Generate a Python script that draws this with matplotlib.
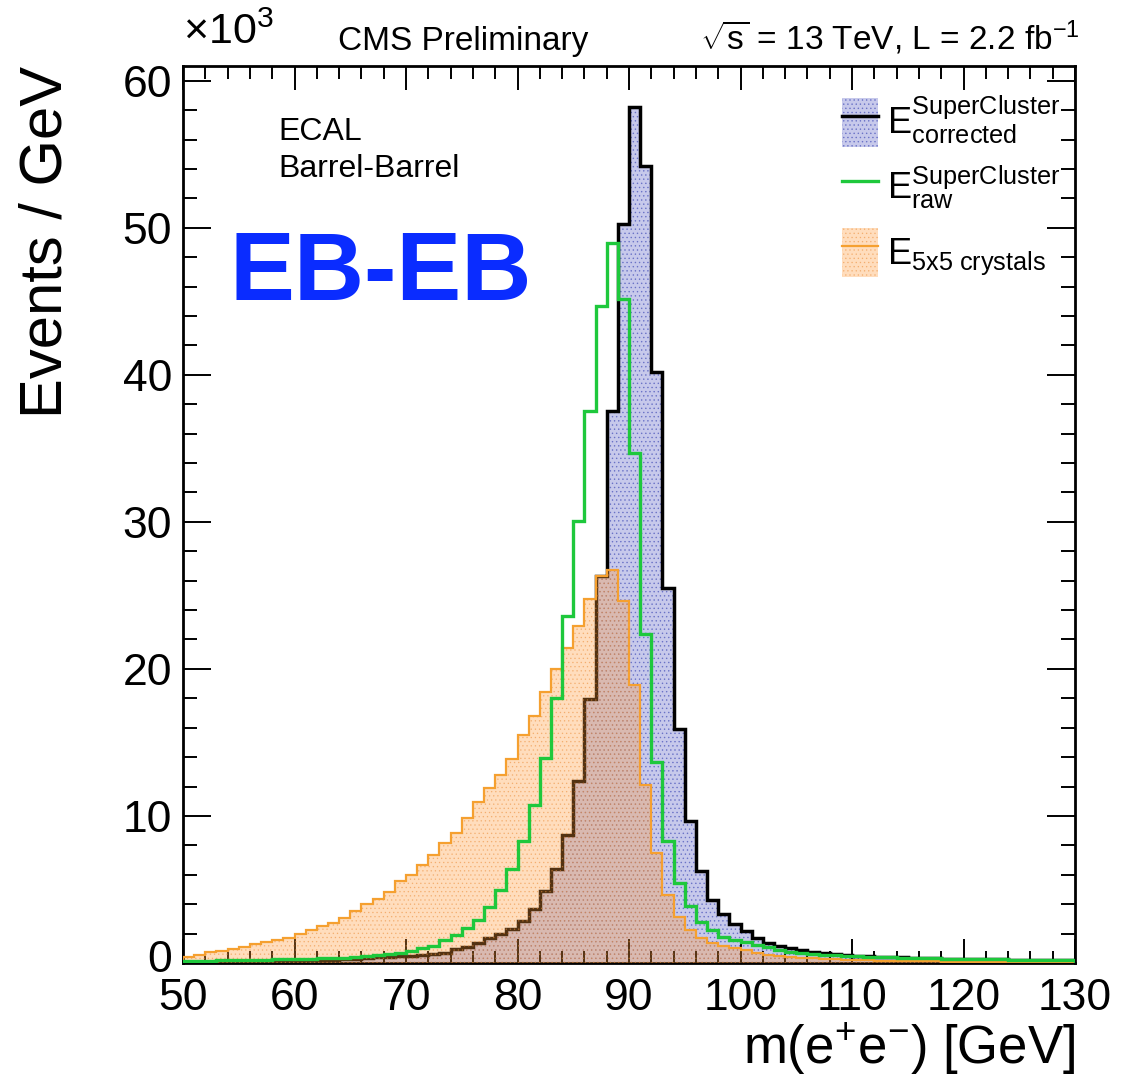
import numpy as np
import matplotlib
matplotlib.use('Agg')
import matplotlib.pyplot as plt
import matplotlib.transforms as mtransforms
from matplotlib.patches import Patch
from matplotlib.lines import Line2D
from matplotlib.ticker import MultipleLocator

plt.rcParams['font.family'] = ['Liberation Sans', 'DejaVu Sans']
plt.rcParams['mathtext.fontset'] = 'custom'
plt.rcParams['mathtext.rm'] = 'Liberation Sans'
plt.rcParams['mathtext.it'] = 'Liberation Sans:italic'
plt.rcParams['mathtext.bf'] = 'Liberation Sans:bold'
plt.rcParams['hatch.linewidth'] = 0.5

# bin edges, 1 GeV bins from 50 to 130
edges = np.arange(50, 131)

# events per GeV, in units of 10^3
corrected = [0.08, 0.08, 0.09, 0.10, 0.10, 0.11, 0.12, 0.13, 0.14, 0.15,
             0.17, 0.19, 0.21, 0.23, 0.26, 0.29, 0.33, 0.38, 0.43, 0.47,
             0.50, 0.54, 0.59, 0.70, 0.93, 1.11, 1.38, 1.68, 1.95, 2.30,
             2.88, 3.70, 4.93, 6.38, 8.72, 12.35, 17.92, 26.3, 37.56, 50.27,
             58.2, 54.2, 40.17, 25.52, 15.92, 9.67, 6.29, 4.29, 3.32, 2.68,
             2.15, 1.68, 1.34, 1.16, 1.00, 0.89, 0.77, 0.68, 0.61, 0.54,
             0.50, 0.46, 0.43, 0.40, 0.38, 0.35, 0.33, 0.31, 0.30, 0.28,
             0.27, 0.26, 0.25, 0.24, 0.23, 0.22, 0.21, 0.20, 0.20, 0.19]

raw = [0.15, 0.16, 0.17, 0.18, 0.19, 0.20, 0.21, 0.22, 0.24, 0.25,
       0.27, 0.29, 0.31, 0.34, 0.37, 0.41, 0.46, 0.54, 0.61, 0.70,
       0.84, 1.00, 1.16, 1.57, 1.91, 2.36, 2.93, 3.79, 4.95, 6.40,
       8.32, 10.76, 13.96, 18.03, 23.6, 30.06, 37.56, 44.71, 48.96, 45.16,
       34.67, 22.39, 13.65, 8.33, 5.43, 3.88, 2.82, 2.25, 1.79, 1.55,
       1.42, 1.23, 1.07, 0.89, 0.77, 0.68, 0.62, 0.57, 0.53, 0.50,
       0.47, 0.44, 0.41, 0.39, 0.37, 0.35, 0.33, 0.31, 0.29, 0.28,
       0.27, 0.26, 0.25, 0.24, 0.23, 0.22, 0.21, 0.20, 0.19, 0.19]

crystals = [0.43, 0.56, 0.72, 0.79, 0.93, 1.09, 1.26, 1.45, 1.57, 1.71,
            1.98, 2.25, 2.52, 2.75, 3.06, 3.56, 4.02, 4.38, 4.81, 5.59,
            5.99, 6.68, 7.36, 8.13, 8.83, 9.85, 10.92, 11.9, 12.8, 13.85,
            15.5, 16.82, 18.4, 20.0, 21.43, 22.9, 24.72, 26.3, 26.7, 24.6,
            18.88, 12.08, 7.47, 4.63, 3.16, 2.25, 1.73, 1.38, 1.16, 1.00,
            0.89, 0.66, 0.54, 0.48, 0.39, 0.35, 0.31, 0.28, 0.25, 0.22,
            0.20, 0.18, 0.17, 0.15, 0.14, 0.13, 0.12, 0.11, 0.10, 0.10,
            0.09, 0.08, 0.08, 0.07, 0.07, 0.06, 0.06, 0.06, 0.05, 0.05]

blue_fill = (0.78, 0.79, 0.92, 1.0)
blue_hatch = (0.42, 0.45, 0.78, 1.0)
orange_fill = (1.0, 0.60, 0.22, 0.33)
orange_hatch = (0.92, 0.55, 0.22, 0.45)
green = '#1ec83c'
orange = '#f5a030'

fig = plt.figure(figsize=(11.21, 10.83), dpi=100)
ax = fig.add_axes([183/1121, 120/1083, 892/1121, 897/1083])

ax.stairs(corrected, edges, fill=True, facecolor=blue_fill, edgecolor=blue_hatch,
          hatch='....', linewidth=0, zorder=1)
ax.stairs(corrected, edges, color='black', linewidth=2.5, zorder=2)
ax.stairs(crystals, edges, fill=True, facecolor=orange_fill, edgecolor=orange_hatch,
          hatch='....', linewidth=0, zorder=3)
ax.stairs(crystals, edges, color=orange, linewidth=1.6, zorder=4)
ax.stairs(raw, edges, color=green, linewidth=2.4, zorder=5)

ax.set_xlim(50, 130)
ax.set_ylim(0, 61.0)
ax.set_xticks(range(50, 131, 10))
ax.set_yticks(range(0, 61, 10))
ax.xaxis.set_minor_locator(MultipleLocator(2))
ax.yaxis.set_minor_locator(MultipleLocator(2))
ax.tick_params(which='both', direction='in', top=True, right=True, width=1.4,
               labelsize=32)
ax.tick_params(axis='x', which='major', length=17, pad=11)
ax.tick_params(axis='x', which='minor', length=9)
ax.tick_params(axis='y', which='major', length=20, pad=8)
ax.tick_params(axis='y', which='minor', length=10)
for s in ax.spines.values():
    s.set_linewidth(2)

# lift the "0" a little so it does not sit on the "50"
zero = ax.get_yticklabels()[0]
zero.set_transform(zero.get_transform() +
                   mtransforms.ScaledTranslation(0, 5/72, fig.dpi_scale_trans))

ax.set_xlabel(r'm(e$^{+}$e$^{-}$) [GeV]', fontsize=38, loc='right', labelpad=1)
ax.set_ylabel('Events / GeV', fontsize=43, loc='top', labelpad=35)

fig.text(183/1121, 1-44/1083, r'$\times\mathregular{10^{3}}$', fontsize=31, va='baseline')
fig.text(338/1121, 1-50/1083, 'CMS Preliminary', fontsize=24, va='baseline')
fig.text(1080/1121, 1-50/1083, r'$\sqrt{\mathrm{s}}$ = 13 TeV, L = 2.2 fb$^{\mathregular{-1}}$',
         fontsize=24, va='baseline', ha='right')

ax.text(0.1065, 0.9175, 'ECAL', fontsize=23, transform=ax.transAxes)
ax.text(0.1065, 0.876, 'Barrel-Barrel', fontsize=23, transform=ax.transAxes)
ax.text(0.052, 0.739, 'EB-EB', fontsize=70, fontweight='bold', color='#0a2cff',
        transform=ax.transAxes)

h1 = (Patch(facecolor=blue_fill, edgecolor=blue_hatch, hatch='....', linewidth=0),
      Line2D([], [], color='black', linewidth=2.5))
h2 = Line2D([], [], color=green, linewidth=2.4)
h3 = (Patch(facecolor=orange_fill, edgecolor=orange_hatch, hatch='....', linewidth=0),
      Line2D([], [], color=orange, linewidth=1.6))
labels = [r'$\mathrm{E}^{\mathrm{SuperCluster}}_{\mathrm{corrected}}$',
          r'$\mathrm{E}^{\mathrm{SuperCluster}}_{\mathrm{raw}}$',
          r'$\mathrm{E}_{\mathrm{5x5\ crystals}}$']
ax.legend([h1, h2, h3], labels, loc='upper left', bbox_to_anchor=(842/1121, 1-94/1083),
          bbox_transform=fig.transFigure, frameon=False, fontsize=26, borderpad=0,
          borderaxespad=0, handlelength=1.0, handleheight=1.7, handletextpad=0.25,
          labelspacing=0.45)

fig.savefig('out.png', dpi=100)
